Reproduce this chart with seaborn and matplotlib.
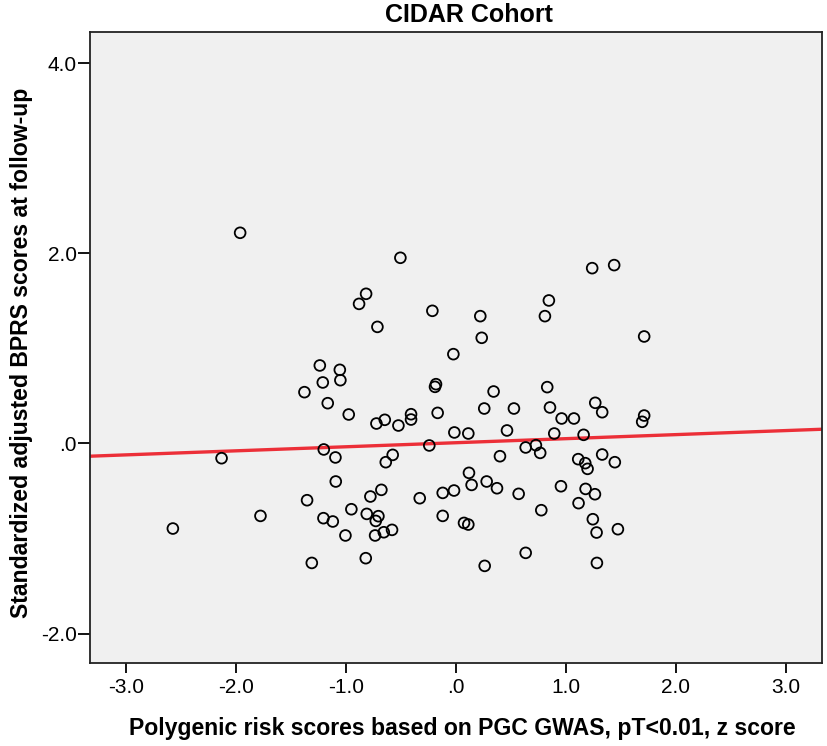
import matplotlib
matplotlib.use("Agg")
import matplotlib.pyplot as plt
import seaborn as sns

sns.set_theme(style="white")
plt.rcParams['font.family'] = ['Liberation Sans', 'DejaVu Sans']
plt.rcParams['text.color'] = 'black'

# Datos
prs_z = [
    -1.964, -0.506, -0.818, -0.882, -0.215, -0.715, -0.024, -1.239, -1.057, -1.212,
    -1.052, -1.379, -0.182, -0.191, -1.167, -0.976, -0.167, -0.724, -0.648, -0.524,
    -0.409, -0.409, -0.015,
    1.239, 1.439, 0.845, 0.809, 0.221, 0.234, 1.712, 0.342, 0.830, 0.257,
    0.527, 0.855, 1.267, 1.330, 0.961, 1.073, 1.712, 1.694,
    0.112, 0.464, 0.894, 1.161, 0.634, 0.727, 0.766, 0.400, 1.112, 1.176,
    1.197, 1.330, 1.445, 0.118, 0.142, -0.018, -0.121, 0.279, 0.373, 0.570,
    0.955, 1.179, 1.264, 1.115, 0.776, 1.245, 1.279, 1.473, -0.121, 0.073,
    0.112, 0.634, 0.261, 1.282,
    -2.133, -2.576, -1.779, -1.203, -1.097, -1.094, -1.355, -1.206, -1.121, -1.006,
    -1.312, -0.821, -0.952, -0.779, -0.679, -0.812, -0.706, -0.730, -0.736, -0.657,
    -0.582, -0.639, -0.576, -0.330, -0.243,
]
bprs_z = [
    2.217, 1.954, 1.575, 1.469, 1.396, 1.227, 0.940, 0.821, 0.775, 0.642,
    0.666, 0.540, 0.624, 0.596, 0.424, 0.305, 0.322, 0.210, 0.249, 0.189,
    0.308, 0.252, 0.116,
    1.845, 1.877, 1.505, 1.340, 1.340, 1.112, 1.126, 0.547, 0.593, 0.368,
    0.368, 0.379, 0.428, 0.329, 0.263, 0.263, 0.294, 0.228,
    0.105, 0.137, 0.105, 0.091, -0.042, -0.018, -0.099, -0.134, -0.165, -0.207,
    -0.267, -0.116, -0.197, -0.309, -0.436, -0.495, -0.520, -0.400, -0.471, -0.530,
    -0.450, -0.478, -0.534, -0.628, -0.702, -0.797, -0.937, -0.902, -0.762, -0.836,
    -0.853, -1.151, -1.288, -1.257,
    -0.155, -0.895, -0.762, -0.063, -0.147, -0.400, -0.597, -0.786, -0.821, -0.968,
    -1.257, -1.207, -0.692, -0.558, -0.488, -0.741, -0.765, -0.815, -0.968, -0.934,
    -0.909, -0.197, -0.120, -0.576, -0.021,
]

# Recta de ajuste
fit_intercept = 0.008
fit_slope = 0.0426

xticks = [-3, -2, -1, 0, 1, 2, 3]
xtick_labels = ['-3.0', '-2.0', '-1.0', '.0', '1.0', '2.0', '3.0']
yticks = [-2, 0, 2, 4]
ytick_labels = ['-2.0', '.0', '2.0', '4.0']

fig = plt.figure(figsize=(8.28, 7.46), dpi=100)
ax = fig.add_axes([90 / 828, 1 - 663 / 746, 732 / 828, 631 / 746])
ax.set_facecolor('#f0f0f0')

ax.axline((0, fit_intercept), slope=fit_slope, color='#ec2f38', lw=2.4, zorder=2)
sns.scatterplot(x=prs_z, y=bprs_z, ax=ax, s=60, marker='o',
                facecolor='none', edgecolor='black', linewidth=1.3, zorder=3)

ax.set_xlim(-3.33, 3.33)
ax.set_ylim(-2.31, 4.33)
ax.set_xticks(xticks)
ax.set_xticklabels(xtick_labels)
ax.set_yticks(yticks)
ax.set_yticklabels(ytick_labels)
ax.tick_params(axis='x', direction='out', length=7.5, width=1.3, pad=3.5,
               labelsize=15, bottom=True, colors='black')
ax.tick_params(axis='y', direction='out', length=8.5, width=1.3, pad=1,
               labelsize=15, left=True, colors='black')

for side in ['left', 'bottom', 'top', 'right']:
    ax.spines[side].set_visible(True)
    ax.spines[side].set_color('#222222')
    ax.spines[side].set_linewidth(1.3)

fig.text(469 / 828, 1 - 15 / 746, 'CIDAR Cohort', ha='center', va='center',
         fontsize=18, fontweight='bold', color='black')
fig.text(462 / 828, 1 - 729 / 746,
         'Polygenic risk scores based on PGC GWAS, pT<0.01, z score',
         ha='center', va='center', fontsize=16.6, fontweight='bold', color='black')
fig.text(22 / 828, 1 - 353 / 746,
         'Standardized adjusted BPRS scores at follow-up',
         ha='center', va='center', rotation=90, fontsize=16.6, fontweight='bold',
         color='black')

fig.savefig('out.png', dpi=100)
